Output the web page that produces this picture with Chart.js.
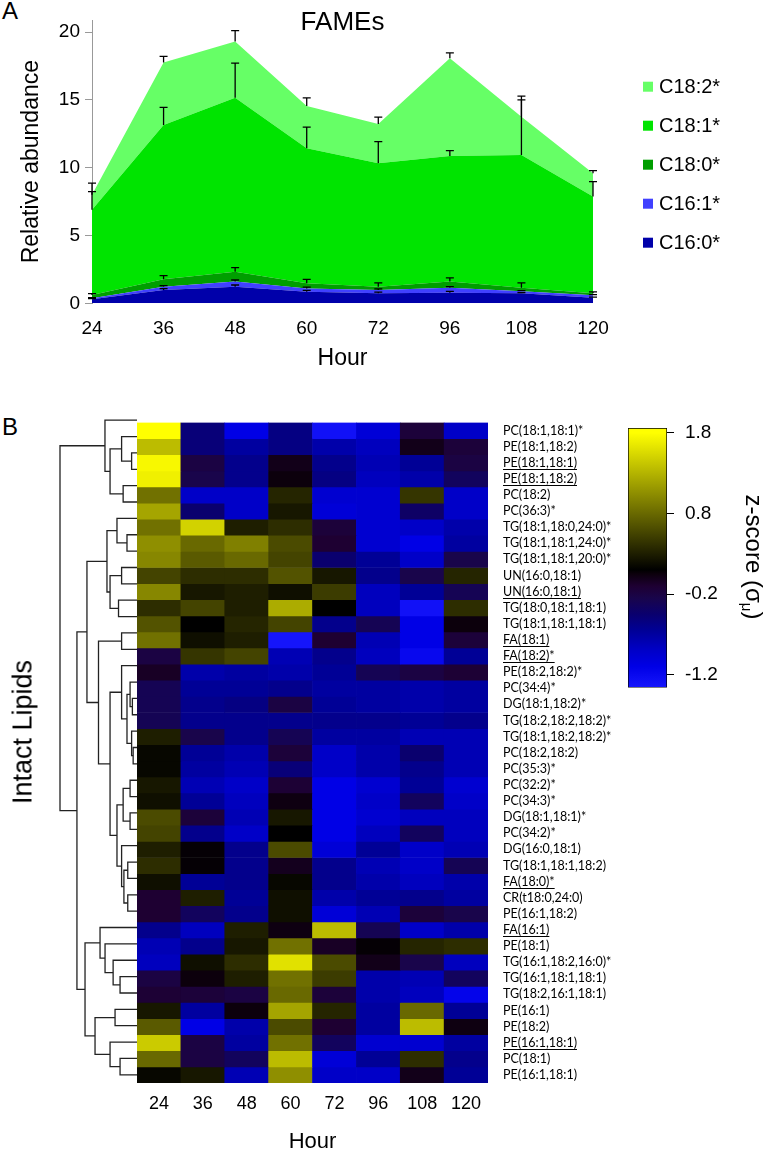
<!DOCTYPE html>
<html><head><meta charset="utf-8">
<script src="https://cdn.jsdelivr.net/npm/chart.js@4.4.0/dist/chart.umd.min.js"></script>
<style>
html,body{margin:0;padding:0;background:#fff;width:764px;height:1150px;overflow:hidden;position:relative;}
canvas{position:absolute;}
.lbl{position:absolute;font-family:"Liberation Sans",Arial,sans-serif;color:#000;line-height:1;white-space:nowrap;}
</style></head><body>
<div class="lbl" style="left:2px;top:-1px;font-size:24px;">A</div>
<div class="lbl" style="left:2px;top:415px;font-size:24px;">B</div>
<canvas id="fames" width="764" height="380" style="left:0;top:0"></canvas>
<canvas id="dendro" width="140" height="760" style="left:0;top:400px"></canvas>
<canvas id="heat" width="764" height="760" style="left:0;top:400px"></canvas>
<canvas id="cbar" width="164" height="310" style="left:600px;top:400px"></canvas>
<div class="lbl" id="intact" style="left:23px;top:732px;font-size:27px;transform:translate(-50%,-50%) rotate(-90deg);">Intact Lipids</div>
<script>
// ---------- Panel A data ----------
const hours = ['24','36','48','60','72','96','108','120'];
const seriesNames = ['C16:0*','C16:1*','C18:0*','C18:1*','C18:2*'];
const c160 = [0.30,0.98,1.23,0.86,0.74,0.78,0.74,0.41];
const c161 = [0.07,0.25,0.37,0.24,0.24,0.37,0.14,0.18];
const c180 = [0.24,0.54,0.73,0.38,0.25,0.45,0.27,0.16];
const c181 = [6.29,11.39,12.84,9.96,9.10,9.27,9.79,7.12];
const c182 = [1.10,4.60,4.14,3.12,2.90,7.21,2.83,1.72];
const e160 = [0.05,0.10,0.12,0.10,0.08,0.10,0.05,0.05];
const e161 = [0.05,0.08,0.12,0.10,0.08,0.08,0.05,0.05];
const e180 = [0.10,0.27,0.30,0.29,0.27,0.27,0.35,0.10];
const e181 = [1.34,1.30,2.55,1.55,1.60,0.40,4.35,1.10];
const e182 = [0.86,0.45,0.80,0.60,0.50,0.40,1.23,0.20];
const yTicksA = [0,5,10,15,20];
const chartTitleA = 'FAMEs';

// ---------- Panel B data ----------
const rowNames = ['PC(18:1,18:1)*','PE(18:1,18:2)','PE(18:1,18:1)','PE(18:1,18:2)','PC(18:2)','PC(36:3)*',
 'TG(18:1,18:0,24:0)*','TG(18:1,18:1,24:0)*','TG(18:1,18:1,20:0)*','UN(16:0,18:1)','UN(16:0,18:1)',
 'TG(18:0,18:1,18:1)','TG(18:1,18:1,18:1)','FA(18:1)','FA(18:2)*','PE(18:2,18:2)*','PC(34:4)*',
 'DG(18:1,18:2)*','TG(18:2,18:2,18:2)*','TG(18:1,18:2,18:2)*','PC(18:2,18:2)','PC(35:3)*','PC(32:2)*',
 'PC(34:3)*','DG(18:1,18:1)*','PC(34:2)*','DG(16:0,18:1)','TG(18:1,18:1,18:2)','FA(18:0)*',
 'CR(t18:0,24:0)','PE(16:1,18:2)','FA(16:1)','PE(18:1)','TG(16:1,18:2,16:0)*','TG(16:1,18:1,18:1)',
 'TG(18:2,16:1,18:1)','PE(16:1)','PE(18:2)','PE(16:1,18:1)','PC(18:1)','PE(16:1,18:1)'];
const underlinedRows = [2,3,10,13,14,28,31,38];
const z24  = [1.8,1.35,1.75,1.7,0.85,1.2,0.85,1.05,1.0,0.55,1.0,0.4,0.65,0.85,-0.2,-0.05,-0.3,-0.3,-0.3,0.3,0.15,0.15,0.25,0.2,0.6,0.55,0.3,0.4,0.2,-0.1,-0.1,-0.6,-0.8,-0.85,-0.2,-0.12,0.25,0.7,1.45,0.8,0.15];
const z36  = [-0.5,-0.5,-0.2,-0.25,-0.9,-0.45,1.5,0.8,0.7,0.4,0.25,0.55,0.1,0.2,0.45,-0.75,-0.65,-0.6,-0.6,-0.25,-0.65,-0.7,-0.8,-0.65,-0.15,-0.6,0.08,0.08,-0.65,0.3,-0.35,-0.85,-0.6,0.2,0.05,-0.15,-0.7,-1.1,-0.2,-0.2,0.25];
const z48  = [-1.1,-0.7,-0.6,-0.6,-0.9,-0.9,0.3,0.95,0.8,0.4,0.3,0.3,0.35,0.3,0.55,-0.7,-0.65,-0.55,-0.6,-0.6,-0.75,-0.8,-0.9,-0.85,-0.8,-0.9,-0.6,-0.6,-0.6,-0.65,-0.6,0.3,0.25,0.4,0.3,-0.2,0.05,-0.75,-0.7,-0.35,-0.8];
const z60  = [-0.55,-0.55,0.0,0.05,0.35,0.25,0.4,0.6,0.55,0.65,0.2,1.25,0.55,-1.35,-0.8,-0.75,-0.6,-0.2,-0.6,-0.3,-0.15,-0.5,-0.12,0.03,0.25,0.1,0.6,-0.02,0.15,0.2,0.2,0.03,0.85,1.6,0.85,0.8,1.2,0.6,0.85,1.35,1.05];
const z72  = [-1.3,-0.75,-0.6,-0.55,-0.95,-1.0,-0.15,-0.1,-0.45,0.25,0.5,0.1,-0.6,-0.1,-0.6,-0.65,-0.7,-0.65,-0.6,-0.7,-0.9,-0.9,-1.1,-1.1,-1.1,-1.1,-1.0,-0.6,-0.6,-0.75,-1.0,1.35,-0.05,0.6,0.5,-0.15,0.35,-0.1,-0.35,-1.0,-0.9];
const z96  = [-1.0,-0.85,-0.8,-0.85,-0.95,-0.95,-0.95,-0.95,-0.65,-0.6,-0.85,-0.85,-0.3,-0.8,-0.85,-0.3,-0.7,-0.7,-0.6,-0.7,-0.75,-0.75,-0.95,-0.9,-0.95,-0.85,-0.65,-0.8,-0.75,-0.65,-0.8,-0.3,0.08,0.0,-0.75,-0.75,-0.7,-0.7,-0.95,-0.65,-0.9];
const z108 = [-0.15,0.0,-0.65,-0.75,0.45,-0.4,-0.9,-1.1,-0.9,-0.25,-0.65,-1.3,-1.1,-1.1,-1.2,-0.2,-0.75,-0.75,-0.65,-0.8,-0.45,-0.6,-0.65,-0.35,-0.85,-0.35,-0.9,-0.9,-0.85,-0.6,-0.15,-0.9,0.35,-0.25,-0.8,-0.85,0.8,1.35,-0.95,0.4,0.0];
const z120 = [-0.9,-0.15,-0.2,-0.35,-0.9,-0.9,-0.75,-0.7,-0.25,0.35,-0.3,0.4,0.05,-0.15,-0.65,-0.12,-0.7,-0.7,-0.6,-0.8,-0.8,-0.8,-0.95,-0.9,-0.85,-0.85,-0.8,-0.3,-0.75,-0.7,-0.25,-0.75,0.4,-0.85,-0.35,-1.15,-0.65,0.03,-0.7,-0.6,-0.65];
const zCols = [z24,z36,z48,z60,z72,z96,z108,z120];
// dendrogram merges: [childA, childB, height]; ids < 41 are rows, id 41+k is merge k
const dendroMerges = [
 [2,3,0.07],[1,41,0.20],[4,5,0.18],[42,43,0.35],[0,44,0.416],
 [7,8,0.13],[6,46,0.26],[9,10,0.20],[11,12,0.24],[48,49,0.35],[47,50,0.39],
 [13,14,0.20],[17,18,0.06],[16,53,0.09],[20,21,0.05],[19,55,0.07],[54,56,0.13],[15,57,0.20],
 [22,23,0.09],[24,25,0.09],[59,60,0.18],[27,28,0.12],[29,30,0.12],[62,63,0.17],[26,64,0.20],
 [61,65,0.26],[58,66,0.35],[52,67,0.50],[51,68,0.65],
 [34,35,0.22],[33,70,0.31],[32,71,0.415],[31,72,0.48],
 [39,40,0.22],[38,74,0.35],[36,37,0.285],[76,75,0.545],[73,77,0.675],[69,78,0.78],[45,79,1.0]
];
// colour scale
const cbTicks = [1.8,0.8,-0.2,-1.2];
const cbMin = -1.36, cbMax = 1.86;
const cmapZ   = [-1.40,-1.10,-0.90,-0.65,-0.45,-0.25,-0.10,0.05,0.10,1.80];
const cmapRGB = [[25,25,255],[0,0,230],[0,0,200],[0,0,150],[10,0,110],[25,5,75],[30,0,50],[12,0,12],[0,0,0],[255,255,0]];

const FONT = '"Liberation Sans", Arial, sans-serif';
Chart.defaults.font.family = FONT;
Chart.defaults.color = '#000';

function zColor(z){
  if (z <= cmapZ[0]) return `rgb(${cmapRGB[0].join(',')})`;
  const n = cmapZ.length;
  if (z >= cmapZ[n-1]) return `rgb(${cmapRGB[n-1].join(',')})`;
  for (let i=0;i<n-1;i++){
    if (z>=cmapZ[i] && z<=cmapZ[i+1]){
      const t=(z-cmapZ[i])/(cmapZ[i+1]-cmapZ[i]);
      const c=cmapRGB[i].map((v,k)=>Math.round(v+(cmapRGB[i+1][k]-v)*t));
      return `rgb(${c.join(',')})`;
    }
  }
}

// ---------- Panel A ----------
const seriesVals = [c160,c161,c180,c181,c182];
const seriesErr = [e160,e161,e180,e181,e182];
const seriesCol = ['#0000AA','#4040FF','#009E00','#00E400','#66FF66'];

const errorBars = {id:'errorBars', afterDatasetsDraw(chart){
  const ctx=chart.ctx, ys=chart.scales.y, xs=chart.scales.x;
  ctx.save(); ctx.strokeStyle='#000'; ctx.lineWidth=1.3;
  chart.data.datasets.forEach((ds,i)=>{
    ds.errors.forEach((e,j)=>{
      let cum=0; for(let k=0;k<=i;k++) cum+=chart.data.datasets[k].data[j];
      const x=xs.getPixelForValue(j), y0=ys.getPixelForValue(cum), y1=ys.getPixelForValue(cum+e);
      ctx.beginPath(); ctx.moveTo(x,y0); ctx.lineTo(x,y1); ctx.moveTo(x-4,y1); ctx.lineTo(x+4,y1); ctx.stroke();
    });
  });
  ctx.restore();
}};
const legendA = {id:'legendA', afterDraw(chart){
  const ctx=chart.ctx; ctx.save(); ctx.font='20px '+FONT; ctx.textBaseline='middle'; ctx.textAlign='left';
  chart.data.datasets.slice().reverse().forEach((d,i)=>{
    const y=86.7+i*39;
    ctx.fillStyle=d.backgroundColor; ctx.fillRect(643,y-5,10,10);
    ctx.fillStyle='#000'; ctx.fillText(d.label,659,y+1);
  });
  ctx.restore();
}};
const titleA = {id:'titleA', afterDraw(chart){
  const {ctx,chartArea}=chart; ctx.save(); ctx.font='26px '+FONT; ctx.fillStyle='#000';
  ctx.textAlign='center'; ctx.textBaseline='middle';
  ctx.fillText(chartTitleA,(chartArea.left+chartArea.right)/2,23); ctx.restore();
}};

new Chart(document.getElementById('fames'),{
  type:'line',
  data:{labels:hours, datasets:seriesVals.map((v,i)=>({
    label:seriesNames[i], data:v, errors:seriesErr[i], backgroundColor:seriesCol[i],
    borderColor:'rgba(0,0,0,0)', borderWidth:0, pointRadius:0, fill:i===0?'origin':'-1', tension:0
  }))},
  options:{
    responsive:false, animation:false,
    layout:{padding:{left:0,right:171,top:20,bottom:0}},
    plugins:{legend:{display:false}, tooltip:{enabled:false}},
    scales:{
      x:{offset:false, grid:{display:false}, border:{display:false},
         ticks:{font:{size:19}, padding:6, maxRotation:0, autoSkip:false},
         title:{display:true, text:'Hour', font:{size:23}, padding:{top:0,bottom:8}},
         afterFit(s){s.height=380-303.3;}},
      y:{stacked:true, min:0, max:20.9,
         afterBuildTicks(s){s.ticks=yTicksA.map(v=>({value:v}));},
         grid:{drawOnChartArea:false, drawTicks:true, tickLength:7, color:'#999'},
         border:{display:true, color:'#999'},
         ticks:{font:{size:19}, padding:5},
         title:{display:true, text:'Relative abundance', font:{size:23}, padding:{top:18,bottom:0}},
         afterFit(s){s.width=92;}}
    }
  },
  plugins:[errorBars,titleA,legendA]
});

// ---------- Dendrogram ----------
const nLeaves = rowNames.length;
const nodeY=[], nodeH=[];
for(let i=0;i<nLeaves;i++){nodeY[i]=i+0.5; nodeH[i]=0;}
const dendroSets = dendroMerges.map(([a,b,h],k)=>{
  const id=nLeaves+k; nodeY[id]=(nodeY[a]+nodeY[b])/2; nodeH[id]=h;
  return {data:[{x:nodeH[a],y:nodeY[a]},{x:h,y:nodeY[a]},{x:h,y:nodeY[b]},{x:nodeH[b],y:nodeY[b]}],
    showLine:true, borderColor:'#222', borderWidth:1.3, pointRadius:0, fill:false, tension:0, clip:6};
});
new Chart(document.getElementById('dendro'),{
  type:'scatter', data:{datasets:dendroSets},
  options:{responsive:false, animation:false,
    layout:{padding:{left:60,right:3,top:12,bottom:77}},
    plugins:{legend:{display:false}, tooltip:{enabled:false}},
    scales:{x:{type:'linear',min:0,max:1,reverse:true,display:false},
            y:{type:'linear',min:0,max:nLeaves,reverse:true,display:false}}}
});

// ---------- Heatmap ----------
const LABEL_FONT = {size:12.5, family:'Lato, "Noto Sans", sans-serif'};
const LABEL_PAD = 15;
const underlinePlugin = {id:'underline', afterDraw(chart){
  const s=chart.scales.y2, ctx=chart.ctx; ctx.save();
  ctx.font=`${LABEL_FONT.size}px ${LABEL_FONT.family}`; ctx.strokeStyle='#000'; ctx.lineWidth=1;
  underlinedRows.forEach(i=>{
    const y=Math.round(s.getPixelForValue(i)+6)+0.5, x0=s.left+LABEL_PAD, w=ctx.measureText(rowNames[i]).width;
    ctx.beginPath(); ctx.moveTo(x0,y); ctx.lineTo(x0+w,y); ctx.stroke();
  });
  ctx.restore();
}};
new Chart(document.getElementById('heat'),{
  type:'bar',
  data:{labels:hours, datasets:rowNames.map((name,r)=>({
    label:name, data:hours.map(()=>1), backgroundColor:zCols.map(col=>zColor(col[r])),
    borderWidth:0, barPercentage:1, categoryPercentage:1, yAxisID:'y'}))},
  options:{responsive:false, animation:false,
    layout:{padding:{left:137,top:12,right:0,bottom:0}},
    plugins:{legend:{display:false}, tooltip:{enabled:false}},
    scales:{
      x:{stacked:true, grid:{display:false, drawTicks:false}, border:{display:false},
         ticks:{font:{size:18}, padding:10, maxRotation:0},
         title:{display:true, text:'Hour', font:{size:22}, padding:{top:0,bottom:5}},
         afterFit(s){s.height=77;}},
      y:{stacked:true, reverse:true, min:0, max:nLeaves, display:false},
      y2:{type:'category', labels:rowNames, position:'right', offset:true,
          grid:{display:false, drawTicks:false, tickLength:0}, border:{display:false},
          ticks:{autoSkip:false, font:LABEL_FONT, padding:LABEL_PAD},
          afterFit(s){s.width=276;}}
    }},
  plugins:[underlinePlugin]
});

// ---------- Colour bar ----------
const cbTitle = {id:'cbTitle', afterDraw(chart){
  const ctx=chart.ctx; ctx.save(); ctx.translate(153,157); ctx.rotate(Math.PI/2);
  ctx.fillStyle='#000'; ctx.textBaseline='middle';
  const main='24px '+FONT, sub='15px '+FONT;
  ctx.font=main; const t1='z-score (\u03c3', t3=')'; const w1=ctx.measureText(t1).width, w3=ctx.measureText(t3).width;
  ctx.font=sub; const w2=ctx.measureText('\u03bc').width;
  let x=-(w1+w2+w3)/2;
  ctx.font=main; ctx.fillText(t1,x,0); x+=w1;
  ctx.font=sub; ctx.fillText('\u03bc',x,7); x+=w2;
  ctx.font=main; ctx.fillText(t3,x,0);
  ctx.restore();
}};
new Chart(document.getElementById('cbar'),{
  type:'bar',
  data:{labels:[''], datasets:[{data:[[cbMin,cbMax]],
    backgroundColor:(c)=>{
      const {chart}=c; const {ctx,chartArea}=chart; if(!chartArea) return '#000';
      const g=ctx.createLinearGradient(0,chartArea.bottom,0,chartArea.top);
      g.addColorStop(0,zColor(cbMin));
      cmapZ.forEach(z=>{const o=(z-cbMin)/(cbMax-cbMin); if(o>0&&o<1) g.addColorStop(o,zColor(z));});
      g.addColorStop(1,zColor(cbMax));
      return g;
    },
    borderColor:'#000', borderWidth:1, borderSkipped:false, barPercentage:1, categoryPercentage:1}]},
  options:{responsive:false, animation:false,
    layout:{padding:{left:28,top:28,bottom:18,right:0}},
    plugins:{legend:{display:false}, tooltip:{enabled:false}},
    scales:{x:{display:false},
      y:{position:'right', min:cbMin, max:cbMax,
         afterBuildTicks(s){s.ticks=cbTicks.map(v=>({value:v}));},
         grid:{drawOnChartArea:false, drawTicks:true, tickLength:7, color:'#000'},
         border:{display:false},
         ticks:{font:{size:19}, padding:11, callback:(v)=>Number(v).toFixed(1)},
         afterFit(s){s.width=97;}}}},
  plugins:[cbTitle]
});
</script>
</body></html>
